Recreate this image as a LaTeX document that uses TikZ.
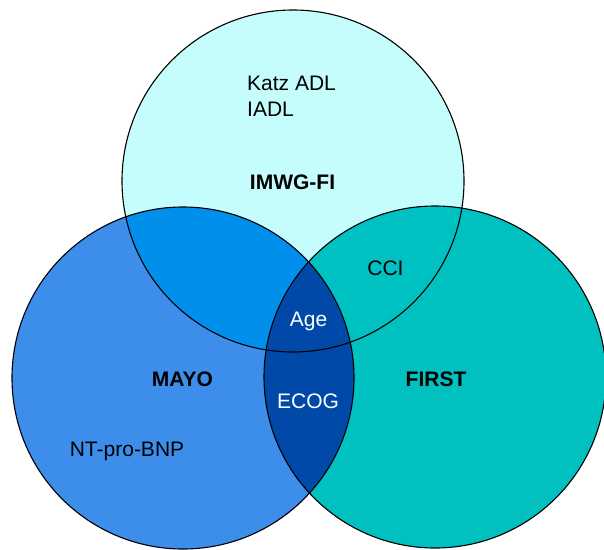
\documentclass[tikz,border=0pt]{standalone}
\usepackage{fontspec}
\setmainfont{Liberation Sans}
\definecolor{imwgcol}{HTML}{C5FDFD}
\definecolor{mayocol}{HTML}{3D8EEB}
\definecolor{firstcol}{HTML}{00C0C0}
\definecolor{imwgmayo}{HTML}{0090EC}
\definecolor{imwgfirst}{HTML}{00C1C1}
\definecolor{coremix}{HTML}{0049A8}
\begin{document}
\begin{tikzpicture}[x=1pt, y=-1pt, font=\fontsize{21}{25.5}\selectfont]
\tikzset{label/.style={inner sep=0pt}, hilabel/.style={inner sep=0pt, text=white}}
\useasboundingbox (0,0) rectangle (604,549);
\def\rad{171}
\coordinate (imwg) at (293,181);
\coordinate (mayo) at (183,378);
\coordinate (first) at (435,377);
\fill[imwgcol] (imwg) circle (\rad);
\fill[mayocol] (mayo) circle (\rad);
\fill[firstcol] (first) circle (\rad);
\begin{scope}
\clip (imwg) circle (\rad);
\fill[imwgmayo] (mayo) circle (\rad);
\fill[imwgfirst] (first) circle (\rad);
\end{scope}
\begin{scope}
\clip (mayo) circle (\rad);
\fill[coremix] (first) circle (\rad);
\end{scope}
\draw[line width=1.1pt] (imwg) circle (\rad);
\draw[line width=1.1pt] (mayo) circle (\rad);
\draw[line width=1.1pt] (first) circle (\rad);
\node[label, anchor=base west] (katz) at (247,90.7) {Katz ADL};
\node[label, anchor=base west] (iadl) at (247,116) {IADL};
\node[label, font=\fontsize{21}{25.5}\selectfont\bfseries] (imwgname) at (292.5,182) {IMWG-FI};
\node[label, font=\fontsize{21}{25.5}\selectfont\bfseries] (mayoname) at (182.5,379.5) {MAYO};
\node[label, font=\fontsize{21}{25.5}\selectfont\bfseries] (firstname) at (436,379) {FIRST};
\node[label, anchor=base] (bnp) at (127,456.7) {NT-pro-BNP};
\node[label, anchor=base] (cci) at (385.5,275) {CCI};
\node[hilabel, anchor=base] (age) at (308.5,326) {Age};
\node[hilabel, anchor=base] (ecog) at (308,408.3) {ECOG};
\end{tikzpicture}
\end{document}
